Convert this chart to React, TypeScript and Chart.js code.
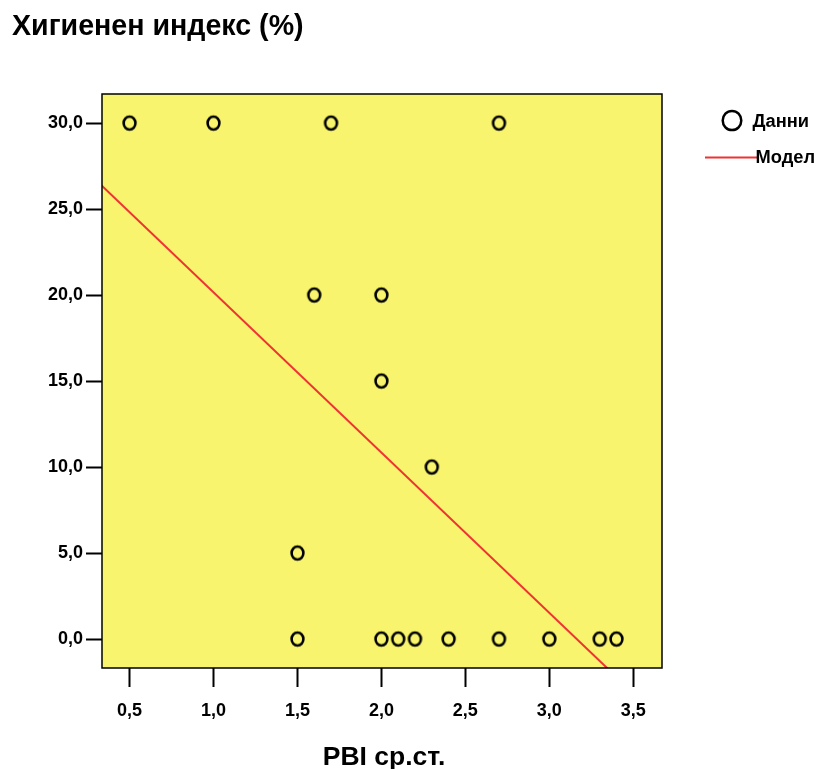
import { useEffect, useRef } from "react";
import { Chart, registerables } from "chart.js";

Chart.register(...registerables);

// Labels
const chartTitle = "Хигиенен индекс (%)";
const xAxisTitle = "PBI ср.ст.";
const dataLabel = "Данни";
const modelLabel = "Модел";

// Observations: PBI average vs. hygiene index (%)
const pbiValues = [0.5, 1.0, 1.7, 2.7, 1.6, 2.0, 2.0, 2.3, 1.5, 1.5, 2.0, 2.1, 2.2, 2.4, 2.7, 3.0, 3.3, 3.4];
const hygieneValues = [30, 30, 30, 30, 20, 20, 15, 10, 5, 0, 0, 0, 0, 0, 0, 0, 0, 0];

// Linear fit
const modelIntercept = 29.48;
const modelSlope = -9.32;
const modelXEnds = [0.2, 3.8];

// Axes
const xTickValues = [0.5, 1.0, 1.5, 2.0, 2.5, 3.0, 3.5];
const yTickValues = [0, 5, 10, 15, 20, 25, 30];
const xRange = [0.336, 3.671];
const yRange = [-1.686, 31.69];

const FONT = "'Liberation Sans', Arial, sans-serif";
const PLOT_BG = "#F8F46E";
const LINE_RED = "#EE3333";

const fmt = (v: number) => v.toFixed(1).replace(".", ",");

function makeOval(rx: number, ry: number, lw: number): HTMLCanvasElement {
  const c = document.createElement("canvas");
  const w = Math.ceil(rx * 2 + lw * 2);
  const h = Math.ceil(ry * 2 + lw * 2);
  c.width = w;
  c.height = h;
  const g = c.getContext("2d")!;
  g.strokeStyle = "#000";
  g.lineWidth = lw;
  g.beginPath();
  g.ellipse(w / 2, h / 2, rx, ry, 0, 0, Math.PI * 2);
  g.stroke();
  return c;
}

const decorPlugin = {
  id: "decor",
  beforeDraw(chart: any) {
    const { ctx, chartArea: a } = chart;
    ctx.save();
    ctx.fillStyle = PLOT_BG;
    ctx.fillRect(a.left, a.top, a.right - a.left, a.bottom - a.top);
    ctx.restore();
  },
  afterDraw(chart: any) {
    const { ctx, chartArea: a } = chart;
    ctx.save();
    // plot frame
    ctx.strokeStyle = "#000";
    ctx.lineWidth = 1.5;
    ctx.strokeRect(a.left, a.top, a.right - a.left, a.bottom - a.top);

    // title
    ctx.fillStyle = "#000";
    ctx.font = `bold 28.6px ${FONT}`;
    ctx.textAlign = "left";
    ctx.textBaseline = "alphabetic";
    ctx.fillText(chartTitle, 12, 35);

    // x axis title
    ctx.font = `bold 26.5px ${FONT}`;
    ctx.textAlign = "center";
    ctx.fillText(xAxisTitle, (a.left + a.right) / 2 + 2, 765);

    // legend
    ctx.lineWidth = 2.5;
    ctx.strokeStyle = "#000";
    ctx.beginPath();
    ctx.ellipse(732, 120.5, 9.3, 9.6, 0, 0, Math.PI * 2);
    ctx.stroke();

    ctx.lineWidth = 2;
    ctx.strokeStyle = LINE_RED;
    ctx.beginPath();
    ctx.moveTo(705, 157.5);
    ctx.lineTo(758, 157.5);
    ctx.stroke();

    ctx.font = `bold 18.3px ${FONT}`;
    ctx.textAlign = "left";
    ctx.textBaseline = "middle";
    ctx.fillText(dataLabel, 752.5, 122);
    ctx.fillText(modelLabel, 755.5, 157.5);
    ctx.restore();
  },
};

export default function App() {
  const ref = useRef<HTMLCanvasElement | null>(null);

  useEffect(() => {
    const canvas = ref.current;
    if (!canvas) return;
    const marker = makeOval(5.9, 6.5, 2.6);

    const chart = new Chart(canvas, {
      type: "scatter",
      data: {
        datasets: [
          {
            label: dataLabel,
            data: pbiValues.map((x, i) => ({ x, y: hygieneValues[i] })),
            pointStyle: marker as any,
            pointRadius: 7,
            showLine: false,
          },
          {
            label: modelLabel,
            type: "line",
            data: modelXEnds.map((x) => ({ x, y: modelIntercept + modelSlope * x })),
            borderColor: LINE_RED,
            borderWidth: 2,
            pointRadius: 0,
            fill: false,
          } as any,
        ],
      },
      options: {
        responsive: false,
        animation: false,
        devicePixelRatio: 1,
        layout: { padding: { left: 0, top: 94, right: 157, bottom: 0 } },
        plugins: {
          legend: { display: false },
          title: { display: false },
          tooltip: { enabled: false },
        },
        scales: {
          x: {
            type: "linear",
            min: xRange[0],
            max: xRange[1],
            afterBuildTicks: (s: any) => {
              s.ticks = xTickValues.map((value) => ({ value }));
            },
            afterFit: (s: any) => {
              s.height = 101;
            },
            grid: {
              display: true,
              drawOnChartArea: false,
              drawTicks: true,
              tickLength: 19,
              tickWidth: 2,
              tickColor: "#000",
            },
            border: { display: false },
            ticks: {
              color: "#000",
              font: { family: FONT, size: 18, weight: "bold" },
              padding: 13,
              maxRotation: 0,
              autoSkip: false,
              callback: (v: any) => fmt(Number(v)),
            },
          },
          y: {
            type: "linear",
            min: yRange[0],
            max: yRange[1],
            afterBuildTicks: (s: any) => {
              s.ticks = yTickValues.map((value) => ({ value }));
            },
            afterFit: (s: any) => {
              s.width = 102;
            },
            grid: {
              display: true,
              drawOnChartArea: false,
              drawTicks: true,
              tickLength: 16,
              tickWidth: 2,
              tickColor: "#000",
            },
            border: { display: false },
            ticks: {
              color: "#000",
              font: { family: FONT, size: 18, weight: "bold" },
              padding: 3,
              autoSkip: false,
              callback: (v: any) => fmt(Number(v)),
            },
          },
        },
      },
      plugins: [decorPlugin],
    });

    return () => chart.destroy();
  }, []);

  return (
    <div style={{ position: "absolute", left: 0, top: 0, width: 819, height: 769, background: "#fff" }}>
      <canvas ref={ref} width={819} height={769} style={{ width: 819, height: 769, display: "block" }} />
    </div>
  );
}
